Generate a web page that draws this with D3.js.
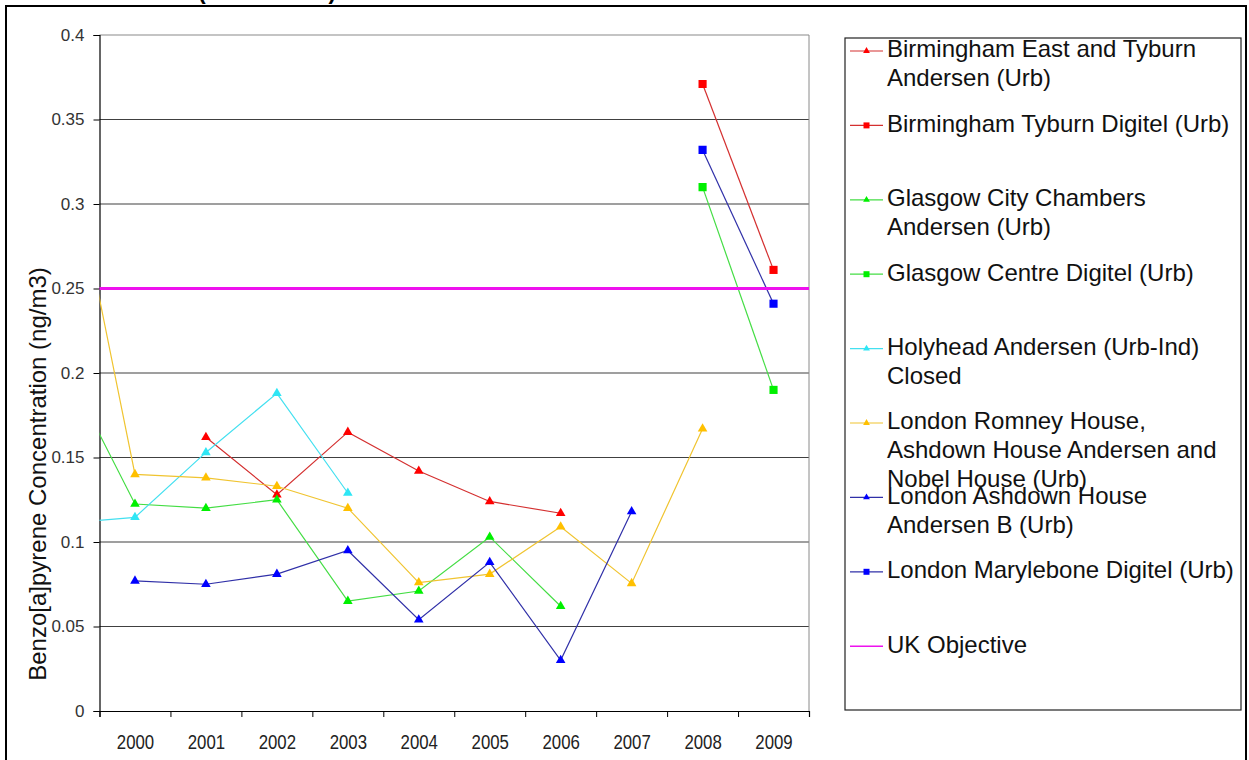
<!DOCTYPE html>
<html>
<head>
<meta charset="utf-8">
<script src="https://cdn.jsdelivr.net/npm/d3@7.9.0/dist/d3.min.js"></script>
<style>
  body { margin: 0; background: #fff; }
  svg { display: block; font-family: "Liberation Sans", Arial, sans-serif; }
</style>
</head>
<body>
<div id="chart"></div>
<script>
// years on the category axis (1999 only feeds the clipped lead-in segments)
const years = [1999, 2000, 2001, 2002, 2003, 2004, 2005, 2006, 2007, 2008, 2009];
const yearLabels = [2000, 2001, 2002, 2003, 2004, 2005, 2006, 2007, 2008, 2009];
const yTicks = [0, 0.05, 0.1, 0.15, 0.2, 0.25, 0.3, 0.35, 0.4];

// series values, one per year above (null = no data)
const birminghamEastAndersen = [null, null, 0.162, 0.128, 0.165, 0.142, 0.124, 0.117, null, null, null];
const birminghamTyburnDigitel = [null, null, null, null, null, null, null, null, null, 0.371, 0.261];
const glasgowCityChambers = [0.205, 0.1225, 0.120, 0.125, 0.065, 0.071, 0.103, 0.062, null, null, null];
const glasgowCentreDigitel = [null, null, null, null, null, null, null, null, null, 0.310, 0.190];
const holyheadAndersen = [0.111, 0.1146, 0.153, 0.188, 0.129, null, null, null, null, null, null];
const londonRomney = [0.348, 0.140, 0.138, 0.133, 0.120, 0.076, 0.081, 0.109, 0.0755, 0.167, null];
const londonAshdownB = [null, 0.077, 0.075, 0.081, 0.095, 0.054, 0.088, 0.030, 0.118, null, null];
const londonMarylebone = [null, null, null, null, null, null, null, null, null, 0.332, 0.241];
const ukObjective = 0.25;

const seriesNames = [
    ["Birmingham East and Tyburn", "Andersen (Urb)"],
    ["Birmingham Tyburn Digitel (Urb)"],
    ["Glasgow City Chambers", "Andersen (Urb)"],
    ["Glasgow Centre Digitel (Urb)"],
    ["Holyhead Andersen (Urb-Ind)", "Closed"],
    ["London Romney House,", "Ashdown House Andersen and", "Nobel House (Urb)"],
    ["London Ashdown House", "Andersen B (Urb)"],
    ["London  Marylebone Digitel (Urb)"],
    ["UK Objective"]
];

const seriesValues = [birminghamEastAndersen, birminghamTyburnDigitel, glasgowCityChambers,
    glasgowCentreDigitel, holyheadAndersen, londonRomney, londonAshdownB, londonMarylebone];
const seriesSymbols = [d3.symbolTriangle, d3.symbolSquare, d3.symbolTriangle, d3.symbolSquare,
    d3.symbolTriangle, d3.symbolTriangle, d3.symbolTriangle, d3.symbolSquare];
const markerColors = ["#ff0000", "#ff0000", "#00f000", "#00f000", "#2ee6f5", "#ffc000", "#0000ff", "#0000ff"];
const lineColors = ["#d43030", "#d43030", "#44dd44", "#44dd44", "#44e0f0", "#f0c430", "#3030a8", "#3030a8"];
const objectiveColor = "#ee11ee";

const width = 1249;
const height = 760;

// plot area
const plot = { left: 99.5, right: 809, top: 35, bottom: 711 };

const svg = d3.select("#chart")
    .append("svg")
    .attr("width", width)
    .attr("height", height);

// cut-off title, only the bottoms of its brackets show
svg.append("text")
    .attr("x", 198)
    .attr("y", -1)
    .attr("font-size", 23)
    .attr("font-weight", "bold")
    .text("(1999 - 2009)");

// outer chart frame
svg.append("rect")
    .attr("x", 6).attr("y", 6)
    .attr("width", 1240).attr("height", 800)
    .attr("fill", "none")
    .attr("stroke", "#000")
    .attr("stroke-width", 2);

// scales
const x = d3.scaleLinear()
    .domain([1999.5, 2009.5])
    .range([plot.left, plot.right]);

const y = d3.scaleLinear()
    .domain([0, 0.4])
    .range([plot.bottom, plot.top]);

svg.append("defs").append("clipPath")
    .attr("id", "plotClip")
    .append("rect")
    .attr("x", plot.left).attr("y", plot.top - 10)
    .attr("width", plot.right - plot.left + 10)
    .attr("height", plot.bottom - plot.top + 20);

// gridlines
svg.append("g")
    .selectAll("line")
    .data(yTicks.filter(d => d > 0))
    .join("line")
    .attr("x1", plot.left).attr("x2", plot.right)
    .attr("y1", d => y(d)).attr("y2", d => y(d))
    .attr("stroke", d => d === 0.4 ? "#8a8a8a" : "#404040")
    .attr("stroke-width", 1.2);

// right edge of plot area
svg.append("line")
    .attr("x1", plot.right).attr("x2", plot.right)
    .attr("y1", plot.top).attr("y2", plot.bottom)
    .attr("stroke", "#8a8a8a");

// y axis
const yAxis = d3.axisLeft(y)
    .tickValues(yTicks)
    .tickSize(6)
    .tickPadding(9)
    .tickFormat(d => d === 0 ? "0" : String(+d.toFixed(2)));

const yAxisG = svg.append("g")
    .attr("transform", `translate(${plot.left},0)`)
    .call(yAxis);
yAxisG.select(".domain").attr("stroke", "#000").attr("stroke-width", 1.2);
yAxisG.selectAll(".tick line").attr("stroke", "#000");
yAxisG.selectAll("text").attr("font-size", 17).attr("fill", "#333").attr("font-family", null);

// x axis: ticks on the category boundaries, labels in between
const xAxisG = svg.append("g")
    .attr("transform", `translate(0,${plot.bottom})`)
    .call(d3.axisBottom(x)
        .tickValues(d3.range(1999.5, 2010, 1))
        .tickSize(6)
        .tickFormat(""));
xAxisG.select(".domain").attr("stroke", "#000").attr("stroke-width", 1.2);
xAxisG.selectAll(".tick line").attr("stroke", "#000");

const xLabelG = svg.append("g")
    .attr("transform", `translate(0,${plot.bottom})`)
    .call(d3.axisBottom(x)
        .tickValues(yearLabels)
        .tickSize(0)
        .tickPadding(23)
        .tickFormat(d3.format("d")));
xLabelG.select(".domain").remove();
// narrow, tall digits like the original
xLabelG.selectAll("text")
    .attr("font-size", 21)
    .attr("fill", "#222")
    .attr("font-family", null)
    .attr("transform", "scale(0.8,1)");

// y axis title
svg.append("text")
    .attr("transform", `translate(38,474) rotate(-90)`)
    .attr("text-anchor", "middle")
    .attr("dy", "0.35em")
    .attr("font-size", 24)
    .attr("fill", "#111")
    .text("Benzo[a]pyrene Concentration (ng/m3)");

// series
const line = d3.line()
    .defined(d => d.v != null)
    .x(d => x(d.year))
    .y(d => y(d.v));

const dataG = svg.append("g").attr("clip-path", "url(#plotClip)");

seriesValues.forEach((vals, i) => {
    const pts = years.map((year, j) => ({ year, v: vals[j] }));
    dataG.append("path")
        .datum(pts)
        .attr("fill", "none")
        .attr("stroke", lineColors[i])
        .attr("stroke-width", 1.2)
        .attr("d", line);

    const isSquare = seriesSymbols[i] === d3.symbolSquare;
    dataG.selectAll(null)
        .data(pts.filter(d => d.v != null && d.year >= 2000))
        .join("path")
        .attr("transform", d => `translate(${x(d.year)},${y(d.v)})`)
        .attr("d", d3.symbol(seriesSymbols[i], isSquare ? 66 : 40))
        .attr("fill", markerColors[i]);
});

// UK objective
svg.append("line")
    .attr("x1", plot.left).attr("x2", plot.right)
    .attr("y1", y(ukObjective)).attr("y2", y(ukObjective))
    .attr("stroke", objectiveColor)
    .attr("stroke-width", 3);

// legend
const legend = { left: 845, top: 38, right: 1241, bottom: 710, firstY: 51, step: 74.4, lineH: 29 };

svg.append("rect")
    .attr("x", legend.left).attr("y", legend.top)
    .attr("width", legend.right - legend.left)
    .attr("height", legend.bottom - legend.top)
    .attr("fill", "#fff")
    .attr("stroke", "#222")
    .attr("stroke-width", 1.2);

seriesNames.forEach((name, i) => {
    const ey = legend.firstY + i * legend.step;
    const g = svg.append("g").attr("transform", `translate(0,${ey})`);
    const isObjective = i === seriesValues.length;
    g.append("line")
        .attr("x1", 850).attr("x2", 883)
        .attr("stroke", isObjective ? objectiveColor : lineColors[i])
        .attr("stroke-width", isObjective ? 1.5 : 1.2);
    if (!isObjective) {
        const isSquare = seriesSymbols[i] === d3.symbolSquare;
        g.append("path")
            .attr("transform", "translate(866.5,0)")
            .attr("d", d3.symbol(seriesSymbols[i], isSquare ? 36 : 20))
            .attr("fill", markerColors[i]);
    }
    g.selectAll("text")
        .data(name)
        .join("text")
        .attr("x", 887)
        .attr("y", (d, k) => k * legend.lineH - 2)
        .attr("dy", "0.35em")
        .attr("font-size", 24)
        .attr("fill", "#111")
        .text(d => d);
});
</script>
</body>
</html>
